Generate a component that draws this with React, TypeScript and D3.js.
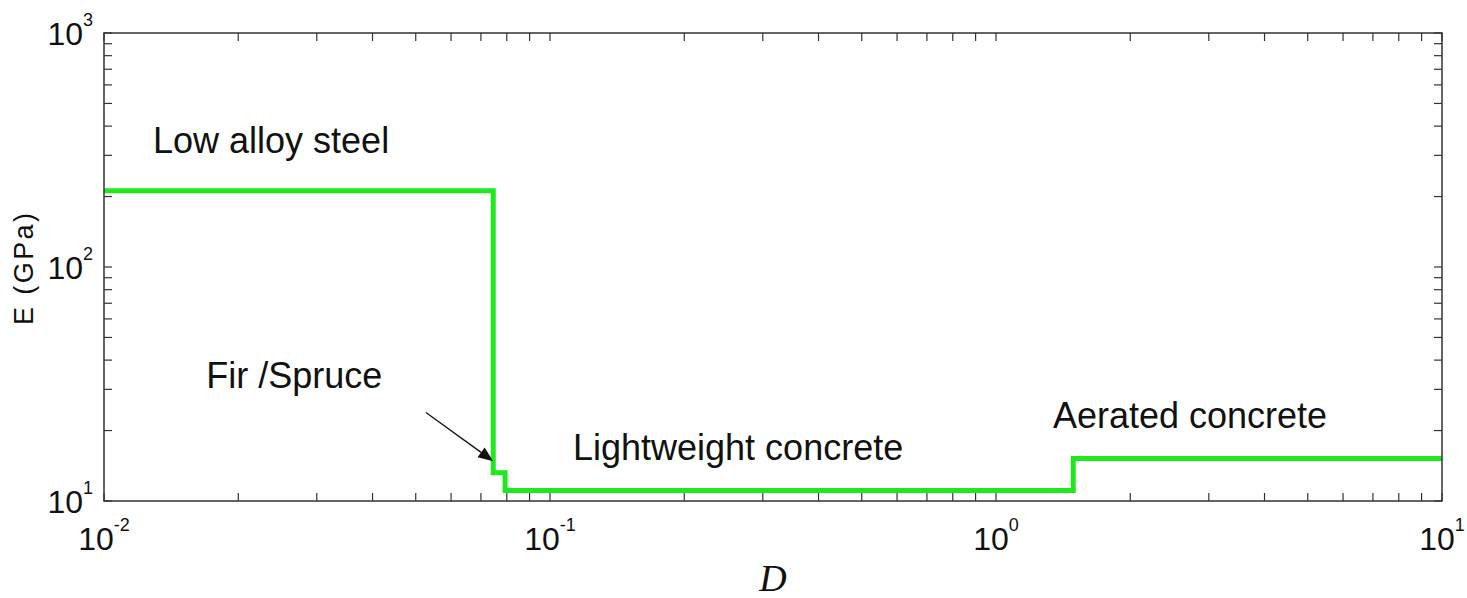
import React from "react";
import * as d3 from "d3";

// ---- data ----
// D breakpoints (x) where the best material changes, and E (GPa) per segment
const stepD: number[] = [0.01, 0.0746, 0.0793, 1.49, 10];
const stepE: number[] = [212, 13.2, 11.1, 15.2];
const xTickExps: number[] = [-2, -1, 0, 1];
const yTickExps: number[] = [1, 2, 3];
const labels: string[] = ["Low alloy steel", "Fir /Spruce", "Lightweight concrete", "Aerated concrete"];
const labelD: number[] = [0.01288, 0.01695, 0.1126, 1.342];
const labelE: number[] = [307, 30.4, 14.96, 20.5];
const arrowFrom: [number, number] = [0.0527, 23.9];
const arrowTo: [number, number] = [0.0746, 14.8];

const W = 1467;
const H = 598;
const M = { left: 104, right: 1442, top: 33, bottom: 501 };

export default function App() {
  const x = d3.scaleLog().domain([0.01, 10]).range([M.left, M.right]);
  const y = d3.scaleLog().domain([10, 1000]).range([M.bottom, M.top]);

  const pts: [number, number][] = stepE.map((e, i) => [stepD[i], e]);
  pts.push([stepD[stepD.length - 1], stepE[stepE.length - 1]]);
  const line = d3
    .line<[number, number]>()
    .x((d) => x(d[0]))
    .y((d) => y(d[1]))
    .curve(d3.curveStepAfter);

  const xMinor: number[] = [];
  for (let e = -2; e < 1; e++) for (let k = 2; k <= 9; k++) xMinor.push(k * Math.pow(10, e));
  const yMinor: number[] = [];
  for (let e = 1; e < 3; e++) for (let k = 2; k <= 9; k++) yMinor.push(k * Math.pow(10, e));

  const tl = 8;
  const axisColor = "#333";
  const font = "'Liberation Sans', Arial, sans-serif";

  // arrow geometry
  const ax0 = x(arrowFrom[0]);
  const ay0 = y(arrowFrom[1]);
  const ax1 = x(arrowTo[0]);
  const ay1 = y(arrowTo[1]);
  const ang = Math.atan2(ay1 - ay0, ax1 - ax0);
  const hl = 15;
  const hw = 6;
  const bx = ax1 - hl * Math.cos(ang);
  const by = ay1 - hl * Math.sin(ang);
  const head = [
    [ax1, ay1],
    [bx + hw * Math.sin(ang), by - hw * Math.cos(ang)],
    [bx - hw * Math.sin(ang), by + hw * Math.cos(ang)],
  ]
    .map((p) => p.join(","))
    .join(" ");

  return (
    <svg
      width={W}
      height={H}
      style={{ position: "absolute", left: 0, top: 0, background: "#fff", display: "block" }}
    >
      <rect x={0} y={0} width={W} height={H} fill="#fff" />
      {/* ticks */}
      <g stroke={axisColor} strokeWidth={1.2}>
        {xMinor.concat(xTickExps.map((e) => Math.pow(10, e))).map((v, i) => (
          <g key={"xt" + i}>
            <line x1={x(v)} x2={x(v)} y1={M.bottom} y2={M.bottom - tl} />
            <line x1={x(v)} x2={x(v)} y1={M.top} y2={M.top + tl} />
          </g>
        ))}
        {yMinor.concat(yTickExps.map((e) => Math.pow(10, e))).map((v, i) => (
          <g key={"yt" + i}>
            <line x1={M.left} x2={M.left + tl} y1={y(v)} y2={y(v)} />
            <line x1={M.right} x2={M.right - tl} y1={y(v)} y2={y(v)} />
          </g>
        ))}
      </g>
      {/* green stair line */}
      <path
        d={line(pts) || ""}
        fill="none"
        stroke="#1fe81f"
        strokeWidth={5}
        strokeLinejoin="miter"
      />
      {/* box */}
      <rect
        x={M.left}
        y={M.top}
        width={M.right - M.left}
        height={M.bottom - M.top}
        fill="none"
        stroke={axisColor}
        strokeWidth={1.5}
      />
      {/* x tick labels */}
      {xTickExps.map((e) => (
        <text
          key={"xl" + e}
          x={x(Math.pow(10, e))}
          y={M.bottom + 49}
          textAnchor="middle"
          fontFamily={font}
          fontSize={32}
          fill="#111"
        >
          10
          <tspan dy={-19} fontSize={18}>
            {String(e)}
          </tspan>
        </text>
      ))}
      {/* y tick labels */}
      {yTickExps.map((e) => (
        <text
          key={"yl" + e}
          x={M.left - 11}
          y={y(Math.pow(10, e)) + 12}
          textAnchor="end"
          fontFamily={font}
          fontSize={32}
          fill="#111"
        >
          10
          <tspan dy={-19} fontSize={18}>
            {String(e)}
          </tspan>
        </text>
      ))}
      {/* axis labels */}
      <text
        transform={`translate(33,${(M.top + M.bottom) / 2 + 2}) rotate(-90)`}
        textAnchor="middle"
        fontFamily={font}
        fontSize={27}
        textLength={112}
        lengthAdjust="spacing"
        fill="#111"
      >
        E (GPa)
      </text>
      <text
        x={(M.left + M.right) / 2}
        y={591}
        textAnchor="middle"
        fontFamily="'Liberation Serif', 'Times New Roman', serif"
        fontStyle="italic"
        fontSize={38}
        fill="#111"
      >
        D
      </text>
      {/* annotations */}
      {labels.map((t, i) => (
        <text
          key={t}
          x={x(labelD[i])}
          y={y(labelE[i])}
          fontFamily={font}
          fontSize={36}
          fill="#111"
        >
          {t}
        </text>
      ))}
      <line x1={ax0} y1={ay0} x2={bx} y2={by} stroke="#111" strokeWidth={1.3} />
      <polygon points={head} fill="#111" />
    </svg>
  );
}
